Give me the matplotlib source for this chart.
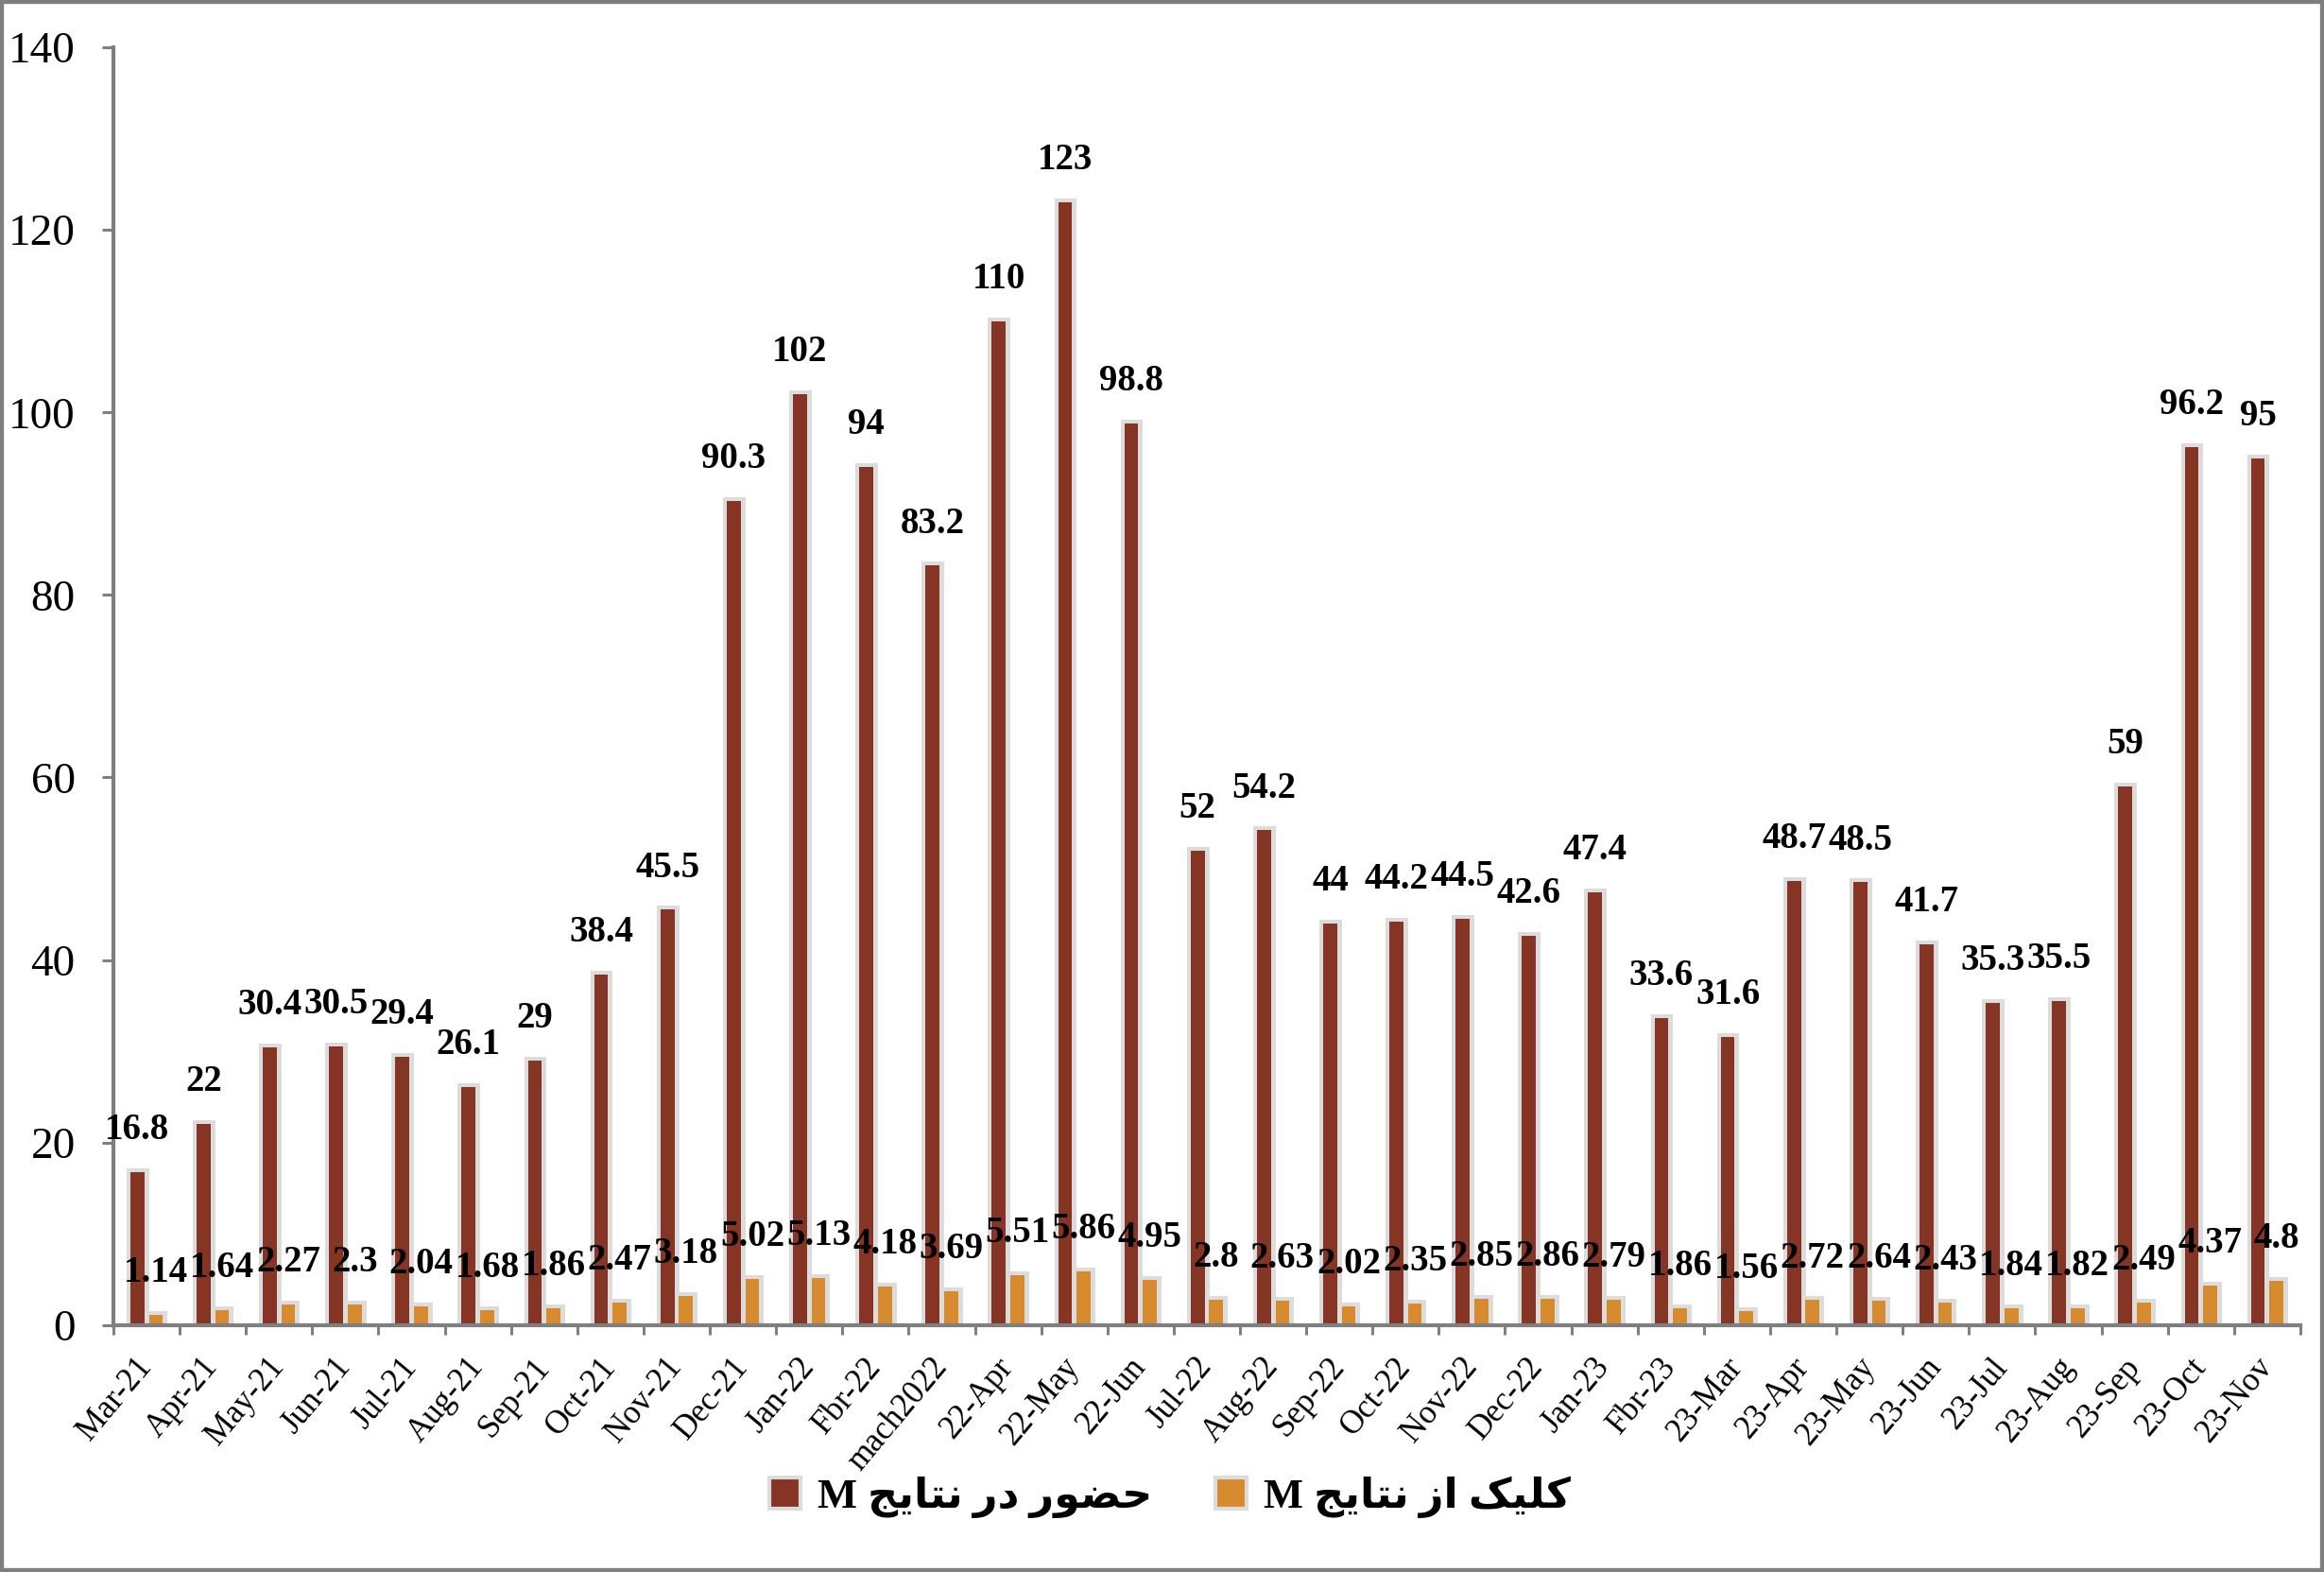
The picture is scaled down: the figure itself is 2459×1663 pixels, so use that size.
import numpy as np
import matplotlib
matplotlib.use('Agg')
import matplotlib.pyplot as plt
from matplotlib.patches import Patch, Rectangle

# Monthly data (millions)
months = ['Mar-21', 'Apr-21', 'May-21', 'Jun-21', 'Jul-21', 'Aug-21', 'Sep-21', 'Oct-21',
          'Nov-21', 'Dec-21', 'Jan-22', 'Fbr-22', 'mach2022', '22-Apr', '22-May', '22-Jun',
          'Jul-22', 'Aug-22', 'Sep-22', 'Oct-22', 'Nov-22', 'Dec-22', 'Jan-23', 'Fbr-23',
          '23-Mar', '23-Apr', '23-May', '23-Jun', '23-Jul', '23-Aug', '23-Sep', '23-Oct', '23-Nov']
impressions = [16.8, 22, 30.4, 30.5, 29.4, 26.1, 29, 38.4, 45.5, 90.3, 102, 94, 83.2, 110, 123,
               98.8, 52, 54.2, 44, 44.2, 44.5, 42.6, 47.4, 33.6, 31.6, 48.7, 48.5, 41.7, 35.3,
               35.5, 59, 96.2, 95]
clicks = [1.14, 1.64, 2.27, 2.3, 2.04, 1.68, 1.86, 2.47, 3.18, 5.02, 5.13, 4.18, 3.69, 5.51, 5.86,
          4.95, 2.8, 2.63, 2.02, 2.35, 2.85, 2.86, 2.79, 1.86, 1.56, 2.72, 2.64, 2.43, 1.84, 1.82,
          2.49, 4.37, 4.8]
series_names = ['حضور در نتایج M', 'کلیک از نتایج M']
yticks = [0, 20, 40, 60, 80, 100, 120, 140]

dark = '#863424'
orange = '#D88A2F'
glow = '#dcdcdc'
axis_gray = '#7f7f7f'

# matplotlib has no Arabic shaping, so pick presentation forms by hand
# (isolated, final, initial, medial)
forms = {
    'ح': ('\uFEA1', '\uFEA2', '\uFEA3', '\uFEA4'),
    'ض': ('\uFEBD', '\uFEBE', '\uFEBF', '\uFEC0'),
    'و': ('\uFEED', '\uFEEE', None, None),
    'ر': ('\uFEAD', '\uFEAE', None, None),
    'د': ('\uFEA9', '\uFEAA', None, None),
    'ن': ('\uFEE5', '\uFEE6', '\uFEE7', '\uFEE8'),
    'ت': ('\uFE95', '\uFE96', '\uFE97', '\uFE98'),
    'ا': ('\uFE8D', '\uFE8E', None, None),
    'ی': ('\uFBFC', '\uFBFD', '\uFBFE', '\uFBFF'),
    'ج': ('\uFE9D', '\uFE9E', '\uFE9F', '\uFEA0'),
    'ک': ('\uFB8E', '\uFB8F', '\uFB90', '\uFB91'),
    'ل': ('\uFEDD', '\uFEDE', '\uFEDF', '\uFEE0'),
    'ز': ('\uFEAF', '\uFEB0', None, None),
}


def shape_word(word):
    out = []
    for i, ch in enumerate(word):
        f = forms[ch]
        prev_joins = i > 0 and forms[word[i - 1]][2] is not None
        next_joins = i < len(word) - 1 and f[2] is not None
        if prev_joins and next_joins:
            out.append(f[3])
        elif prev_joins:
            out.append(f[1])
        elif next_joins:
            out.append(f[2])
        else:
            out.append(f[0])
    return ''.join(out)[::-1]


def visual(label):
    # right-to-left line: the latin "M" ends up on the left
    words = label.split(' ')
    latin = [w for w in words if w[0] not in forms]
    arabic = [shape_word(w) for w in words if w[0] in forms]
    return ' '.join(latin) + ' ' + ' '.join(arabic[::-1])


x = np.arange(len(months))
w = 0.21
off = 0.14

fig = plt.figure(figsize=(24.59, 16.63), dpi=100)
ax = fig.add_axes([0.0488, 0.1571, 0.9410, 0.8128])

# light grey halo behind every bar
ax.bar(x - off, impressions, w, color=glow, edgecolor=glow, linewidth=6.5, zorder=1)
ax.bar(x + off, clicks, w, color=glow, edgecolor=glow, linewidth=6.5, zorder=1)
ax.bar(x - off, impressions, w, color=dark, zorder=2)
ax.bar(x + off, clicks, w, color=orange, zorder=2)

for i in range(len(months)):
    ax.annotate(f'{impressions[i]:g}', (x[i] - off, impressions[i]), xytext=(0, 32),
                textcoords='offset points', ha='center', va='center',
                fontsize=28, fontweight='bold', family='Liberation Serif', zorder=4)
    ax.annotate(f'{clicks[i]:g}', (x[i] + off, clicks[i]), xytext=(0, 32),
                textcoords='offset points', ha='center', va='center',
                fontsize=28, fontweight='bold', family='Liberation Serif', zorder=4)

ax.set_xlim(-0.5, len(months) - 0.5)
ax.set_ylim(0, 140)
ax.set_yticks(yticks)
ax.set_yticklabels([str(t) for t in yticks], fontsize=34, family='Liberation Serif')

ax.set_xticks(x)
ax.set_xticklabels(months, rotation=50, ha='right', va='center', rotation_mode='anchor',
                   fontsize=25, family='Liberation Serif')
ax.set_xticks(np.arange(len(months) + 1) - 0.5, minor=True)
ax.tick_params(axis='x', which='major', length=0, pad=28)
ax.tick_params(axis='x', which='minor', length=7, width=2.2, color=axis_gray)
ax.tick_params(axis='y', length=9, width=2.2, color=axis_gray, pad=20)

for s in ['top', 'right']:
    ax.spines[s].set_visible(False)
for s in ['left', 'bottom']:
    ax.spines[s].set_color(axis_gray)
    ax.spines[s].set_linewidth(3)
    ax.spines[s].set_zorder(3)

handles = [Patch(facecolor=dark, edgecolor=glow, linewidth=3),
           Patch(facecolor=orange, edgecolor=glow, linewidth=3)]
fig.legend(handles, [visual(n) for n in series_names], loc='center',
           bbox_to_anchor=(0.5035, 0.0475), ncol=2, frameon=False,
           prop={'family': ['Liberation Serif', 'DejaVu Sans'], 'weight': 'bold', 'size': 32},
           handlelength=0.75, handleheight=0.75, handletextpad=0.4, columnspacing=1.5)

# grey frame round the whole picture
fig.patches.append(Rectangle((0, 0), 1, 1, transform=fig.transFigure, fill=False,
                             edgecolor=axis_gray, linewidth=6))

plt.savefig('out.png', dpi=100)
